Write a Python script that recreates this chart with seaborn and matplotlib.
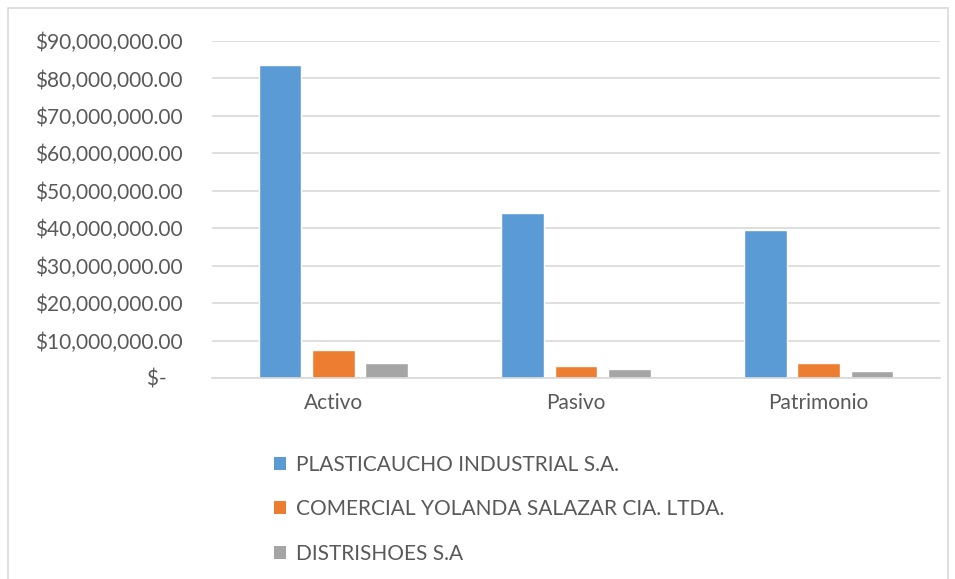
import matplotlib
matplotlib.use("Agg")
import matplotlib.pyplot as plt
from matplotlib.patches import Rectangle, Patch
import seaborn as sns
import pandas as pd

categories = ["Activo", "Pasivo", "Patrimonio"]
companies = ["PLASTICAUCHO INDUSTRIAL S.A.",
             "COMERCIAL YOLANDA SALAZAR CIA. LTDA.",
             "DISTRISHOES S.A"]
plasticaucho = [83.6e6, 44.1e6, 39.4e6]
yolanda = [7.4e6, 3.3e6, 4.05e6]
distrishoes = [4.05e6, 2.3e6, 1.75e6]
yticks = [0, 10e6, 20e6, 30e6, 40e6, 50e6, 60e6, 70e6, 80e6, 90e6]
ytick_labels = ["$-   ", "$10,000,000.00", "$20,000,000.00", "$30,000,000.00",
                "$40,000,000.00", "$50,000,000.00", "$60,000,000.00",
                "$70,000,000.00", "$80,000,000.00", "$90,000,000.00"]
colors = ["#5B9BD5", "#ED7D31", "#A5A5A5"]

rows = []
for comp, vals in zip(companies, [plasticaucho, yolanda, distrishoes]):
    for cat, v in zip(categories, vals):
        rows.append({"cat": cat, "company": comp, "value": v})
df = pd.DataFrame(rows)

sns.set_style("white")
plt.rcParams["font.family"] = ["Lato", "DejaVu Sans"]
text_color = "#595959"
fs = 15

fig = plt.figure(figsize=(9.55, 5.79), dpi=100)
ax = fig.add_axes([212/955, (579-378)/579, (940-212)/955, (378-41)/579])

sns.barplot(data=df, x="cat", y="value", hue="company", order=categories,
            hue_order=companies, palette=colors, width=0.66, gap=0.2,
            ax=ax, legend=False, saturation=1, errorbar=None)

ax.set_xlim(-0.5, 2.5)
ax.set_ylim(0, 90e6)
ax.set_yticks(yticks)
ax.set_yticklabels(ytick_labels)
ax.set_xlabel("")
ax.set_ylabel("")
ax.grid(axis="y", color="#D9D9D9", linewidth=1.2)
ax.set_axisbelow(True)
for s in ["top", "right", "left"]:
    ax.spines[s].set_visible(False)
ax.spines["bottom"].set_color("#D9D9D9")
ax.spines["bottom"].set_linewidth(1.2)
ax.tick_params(axis="both", length=0, labelsize=fs, colors=text_color)
ax.tick_params(axis="y", pad=21)
ax.tick_params(axis="x", pad=11)

handles = [Patch(facecolor=c, edgecolor="none") for c in colors]
fig.legend(handles, companies, loc="upper left",
           bbox_to_anchor=(255/955, 1 - 436/579), frameon=False,
           fontsize=fs, labelcolor=text_color, handlelength=0.6,
           handleheight=0.6, handletextpad=0.45, labelspacing=1.17)

fig.patches.append(Rectangle((8/955, -0.05), (948-8)/955, 1.05 - 8/579,
                             transform=fig.transFigure, fill=False,
                             edgecolor="#D9D9D9", linewidth=1.2))

fig.savefig("out.png", dpi=100)
